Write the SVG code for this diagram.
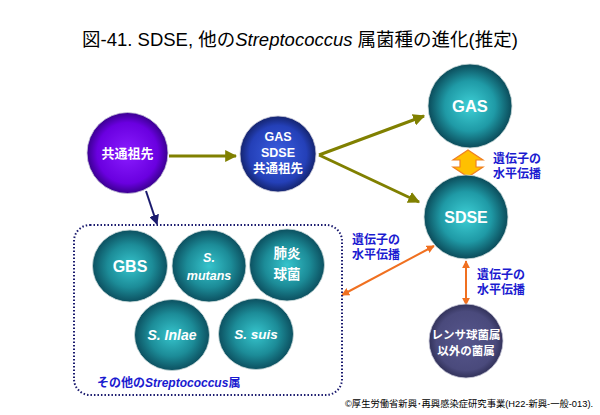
<svg xmlns="http://www.w3.org/2000/svg" width="600" height="415" viewBox="0 0 600 415">
<defs>
<radialGradient id="gPurple" cx="50%" cy="50%" r="50%">
<stop offset="0" stop-color="#8a1cff"/><stop offset="0.75" stop-color="#6a00e0"/><stop offset="1" stop-color="#3a0090"/>
</radialGradient>
<radialGradient id="gBlue" cx="50%" cy="50%" r="50%">
<stop offset="0" stop-color="#3b5fe0"/><stop offset="0.75" stop-color="#2440b8"/><stop offset="1" stop-color="#14246e"/>
</radialGradient>
<radialGradient id="gTeal" cx="50%" cy="50%" r="50%">
<stop offset="0" stop-color="#3ed0d6"/><stop offset="0.6" stop-color="#1f9aa6"/><stop offset="1" stop-color="#0b4b5a"/>
</radialGradient>
<radialGradient id="gTeal2" cx="50%" cy="50%" r="50%">
<stop offset="0" stop-color="#36c4cc"/><stop offset="0.6" stop-color="#1c8c98"/><stop offset="1" stop-color="#0c5060"/>
</radialGradient>
<radialGradient id="gSlate" cx="50%" cy="50%" r="50%">
<stop offset="0" stop-color="#56568c"/><stop offset="0.8" stop-color="#4a4a7c"/><stop offset="1" stop-color="#32325a"/>
</radialGradient>
<marker id="aOlive" viewBox="0 0 10 10" refX="9" refY="5" markerWidth="4" markerHeight="4" orient="auto">
<path d="M0,0 L10,5 L0,10 Z" fill="#808000"/>
</marker>
<marker id="aNavy" viewBox="0 0 10 10" refX="9" refY="5" markerWidth="5" markerHeight="5" orient="auto">
<path d="M0,0 L10,5 L0,10 Z" fill="#1a1a6e"/>
</marker>
<marker id="aOrange" viewBox="0 0 10 10" refX="9" refY="5" markerWidth="4" markerHeight="4" orient="auto-start-reverse">
<path d="M0,0 L10,5 L0,10 Z" fill="#f07020"/>
</marker>
<style>
.title{font-family:"Liberation Sans","Noto Sans CJK JP",sans-serif;font-size:18.5px;fill:#000}
.w{font-family:"Liberation Sans","Noto Sans CJK JP",sans-serif;font-weight:bold;fill:#fff;text-anchor:middle}
.lbl{font-family:"Liberation Sans","Noto Sans CJK JP",sans-serif;font-weight:bold;font-size:12px;fill:#1a1ad0}
.olive{stroke:#808000;stroke-width:3;fill:none}
.orange{stroke:#f07020;stroke-width:2;fill:none}
.foot{font-family:"Liberation Sans","Noto Sans CJK JP",sans-serif;font-size:9.3px;fill:#000}
</style>
</defs>
<rect width="600" height="415" fill="#fff"/>
<text class="title" x="300" y="46" text-anchor="middle">図-41. SDSE, 他の<tspan font-style="italic">Streptococcus</tspan> 属菌種の進化(推定)</text>

<g id="connectors">
<line class="olive" x1="169" y1="156" x2="236" y2="156" marker-end="url(#aOlive)"/>
<line class="olive" x1="319" y1="155" x2="424" y2="116" marker-end="url(#aOlive)"/>
<line class="olive" x1="319" y1="155" x2="419" y2="202" marker-end="url(#aOlive)"/>
<line x1="146" y1="191" x2="157" y2="224" stroke="#1a1a6e" stroke-width="2" marker-end="url(#aNavy)"/>
<line class="orange" x1="342" y1="295" x2="434" y2="246" marker-start="url(#aOrange)" marker-end="url(#aOrange)"/>
<line class="orange" x1="466" y1="261" x2="466" y2="305" stroke-width="1.5" marker-start="url(#aOrange)" marker-end="url(#aOrange)"/>
<path d="M468,150 L483,160 L476,160 L476,167 L483,167 L468,177 L453,167 L460,167 L460,160 L453,160 Z" fill="#ffc000" stroke="#f08020" stroke-width="1.2"/>
</g>

<g id="label-hgt1">
<text class="lbl" x="493" y="163">遺伝子の</text>
<text class="lbl" x="493" y="178">水平伝播</text>
</g>
<g id="label-hgt2">
<text class="lbl" x="352" y="244">遺伝子の</text>
<text class="lbl" x="352" y="259">水平伝播</text>
</g>
<g id="label-hgt3">
<text class="lbl" x="477" y="279">遺伝子の</text>
<text class="lbl" x="477" y="294">水平伝播</text>
</g>

<g id="node-ancestor">
<circle cx="127.5" cy="153" r="40.5" fill="url(#gPurple)" stroke="#c8c8d8" stroke-width="0.8"/>
<text class="w" x="127.5" y="158" font-size="13">共通祖先</text>
</g>
<g id="node-gas-sdse-ancestor">
<circle cx="278" cy="154" r="38" fill="url(#gBlue)" stroke="#c8c8d8" stroke-width="0.8"/>
<text class="w" x="278" y="141" font-size="12.5">GAS</text>
<text class="w" x="278" y="157" font-size="12.5">SDSE</text>
<text class="w" x="278" y="173" font-size="12.5">共通祖先</text>
</g>
<g id="node-gas">
<circle cx="470" cy="106" r="42" fill="url(#gTeal)" stroke="#c8d8d8" stroke-width="0.8"/>
<text class="w" x="470" y="112" font-size="16.5">GAS</text>
</g>
<g id="node-sdse">
<circle cx="466" cy="217" r="42" fill="url(#gTeal)" stroke="#c8d8d8" stroke-width="0.8"/>
<text class="w" x="466" y="223" font-size="16">SDSE</text>
</g>
<g id="node-other-genera">
<circle cx="466" cy="341" r="37" fill="url(#gSlate)" stroke="#c8c8d8" stroke-width="0.8"/>
<text class="w" x="466" y="339" font-size="11.5">レンサ球菌属</text>
<text class="w" x="466" y="355" font-size="11.5">以外の菌属</text>
</g>

<g id="node-other-strep">
<rect x="74" y="225" width="268" height="170" rx="16" ry="16" fill="none" stroke="#1a1a6e" stroke-width="2" stroke-dasharray="1.5,2"/>
<g id="node-gbs">
<ellipse cx="130" cy="266" rx="37.5" ry="36" fill="url(#gTeal2)" stroke="#c8d8d8" stroke-width="0.8"/>
<text class="w" x="130" y="272" font-size="16">GBS</text>
</g>
<g id="node-smutans">
<ellipse cx="209" cy="266" rx="37" ry="36" fill="url(#gTeal2)" stroke="#c8d8d8" stroke-width="0.8"/>
<text class="w" x="209" y="262" font-size="12.5" font-style="italic">S.</text>
<text class="w" x="209" y="280" font-size="12.5" font-style="italic">mutans</text>
</g>
<g id="node-pneumo">
<ellipse cx="287" cy="265" rx="37.5" ry="36" fill="url(#gTeal2)" stroke="#c8d8d8" stroke-width="0.8"/>
<text class="w" x="287" y="258" font-size="13.5">肺炎</text>
<text class="w" x="287" y="279" font-size="13.5">球菌</text>
</g>
<g id="node-siniae">
<ellipse cx="172" cy="335" rx="37.5" ry="35.5" fill="url(#gTeal2)" stroke="#c8d8d8" stroke-width="0.8"/>
<text class="w" x="172" y="340" font-size="14" font-style="italic">S. Inlae</text>
</g>
<g id="node-ssuis">
<ellipse cx="256" cy="334" rx="37.5" ry="35.5" fill="url(#gTeal2)" stroke="#c8d8d8" stroke-width="0.8"/>
<text class="w" x="256" y="339" font-size="13.5" font-style="italic">S. suis</text>
</g>
<text class="lbl" x="97" y="387" font-size="13">その他の<tspan font-style="italic">Streptococcus</tspan>属</text>
</g>

<text class="foot" x="345" y="407">©厚生労働省新興･再興感染症研究事業(H22-新興-一般-013).</text>
</svg>
